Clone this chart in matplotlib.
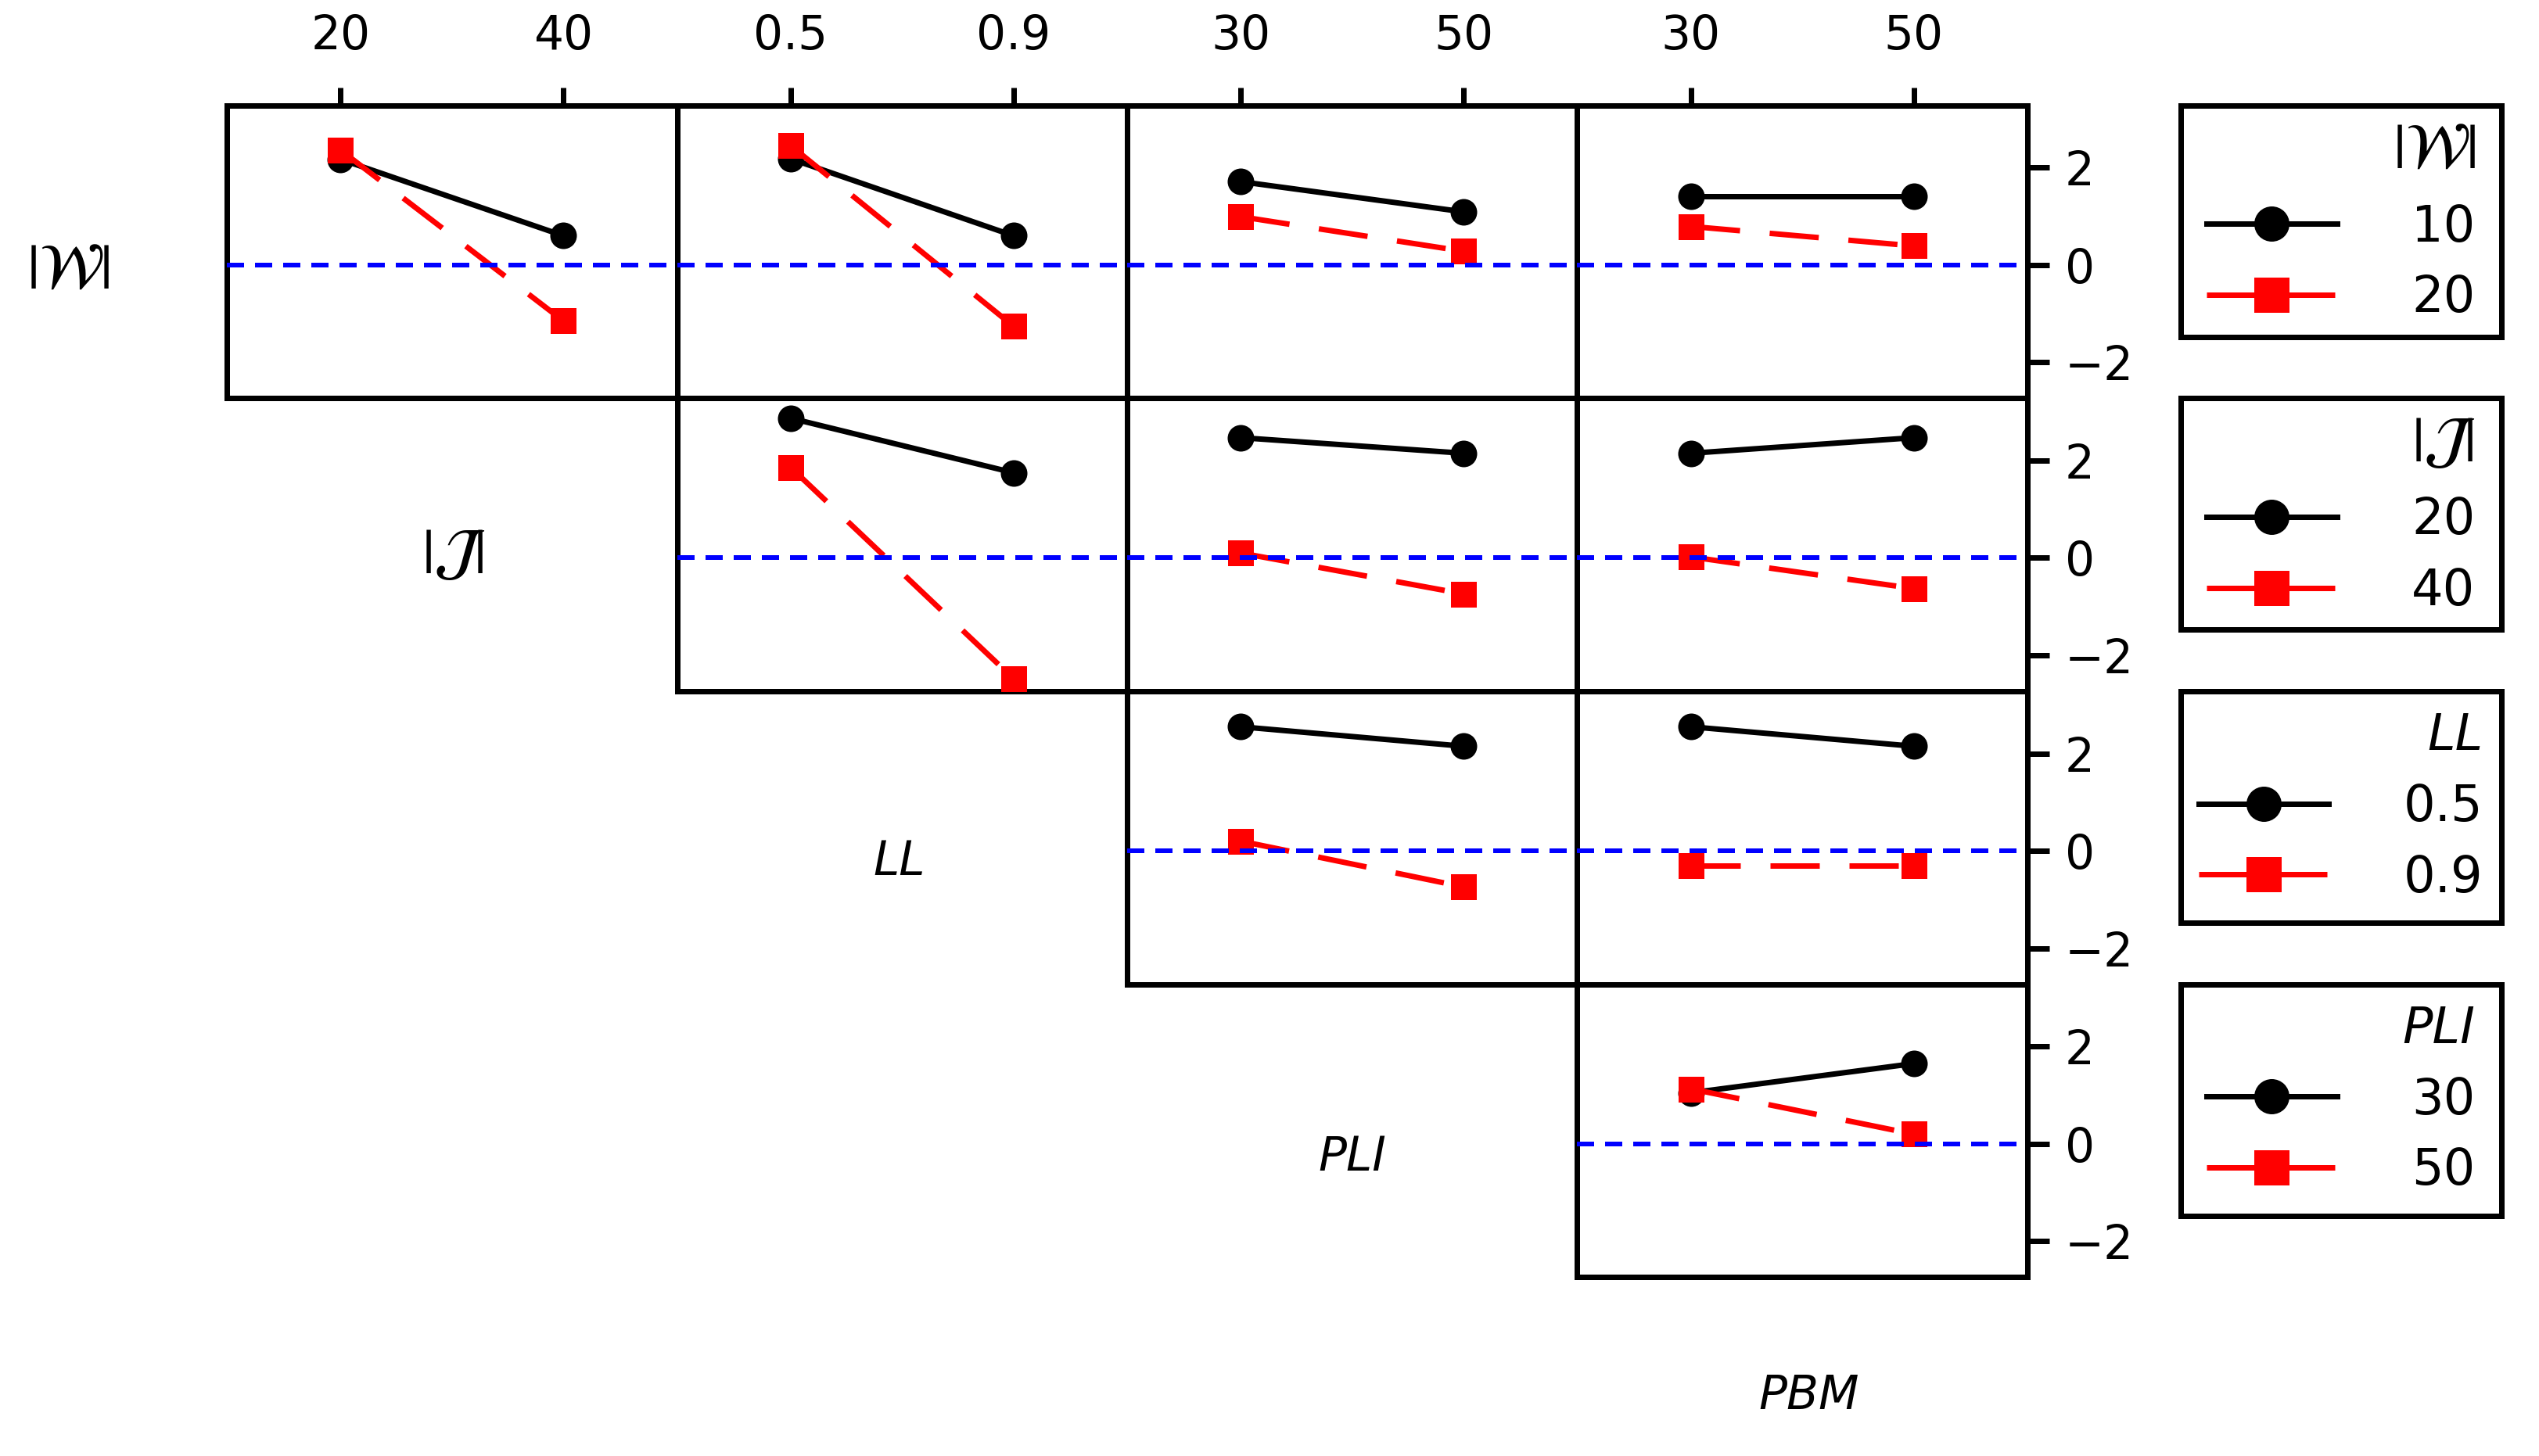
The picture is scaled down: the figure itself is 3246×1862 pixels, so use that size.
import matplotlib
matplotlib.use("Agg")
import matplotlib.pyplot as plt
from matplotlib.lines import Line2D
from matplotlib.font_manager import FontProperties
import numpy as np

# ---------------- data ----------------
factor_titles = [r"$|\mathcal{W}|$", r"$|\mathcal{J}|$", "LL", "PLI", "PBM"]
factor_is_math = [True, True, False, False, False]

w_levels = ["10", "20"]
j_levels = ["20", "40"]
ll_levels = ["0.5", "0.9"]
pli_levels = ["30", "50"]
pbm_levels = ["30", "50"]
all_levels = [w_levels, j_levels, ll_levels, pli_levels, pbm_levels]

# row factor (trace) x column factor (x axis): low-level trace, high-level trace
w_x_j_low = [2.17, 0.60]
w_x_j_high = [2.36, -1.15]
w_x_ll_low = [2.18, 0.60]
w_x_ll_high = [2.45, -1.26]
w_x_pli_low = [1.71, 1.09]
w_x_pli_high = [0.99, 0.28]
w_x_pbm_low = [1.41, 1.41]
w_x_pbm_high = [0.79, 0.39]
j_x_ll_low = [2.87, 1.75]
j_x_ll_high = [1.86, -2.48]
j_x_pli_low = [2.47, 2.15]
j_x_pli_high = [0.10, -0.74]
j_x_pbm_low = [2.15, 2.47]
j_x_pbm_high = [0.02, -0.63]
ll_x_pli_low = [2.55, 2.15]
ll_x_pli_high = [0.20, -0.74]
ll_x_pbm_low = [2.55, 2.15]
ll_x_pbm_high = [-0.31, -0.31]
pli_x_pbm_low = [1.05, 1.65]
pli_x_pbm_high = [1.13, 0.20]

panel_values = {
    (0, 1): (w_x_j_low, w_x_j_high),
    (0, 2): (w_x_ll_low, w_x_ll_high),
    (0, 3): (w_x_pli_low, w_x_pli_high),
    (0, 4): (w_x_pbm_low, w_x_pbm_high),
    (1, 2): (j_x_ll_low, j_x_ll_high),
    (1, 3): (j_x_pli_low, j_x_pli_high),
    (1, 4): (j_x_pbm_low, j_x_pbm_high),
    (2, 3): (ll_x_pli_low, ll_x_pli_high),
    (2, 4): (ll_x_pbm_low, ll_x_pbm_high),
    (3, 4): (pli_x_pbm_low, pli_x_pbm_high),
}
y_ticks = [-2, 0, 2]

# ---------------- style ----------------
W, H, DPI = 3246, 1862, 200
PX = 72.0 / DPI  # points per pixel
plt.rcParams["font.family"] = ["DejaVu Sans"]
plt.rcParams["lines.scale_dashes"] = False

TICK_FS = 21.5
LEG_FS = 23
MATH_FS = 29
SPINE_LW = 7 * PX
LINE_LW = 7 * PX
RED_DASH = (0, (63 * PX, 38 * PX))
BLUE_DASH = (0, (22 * PX, 14 * PX))

fig = plt.figure(figsize=(W / DPI, H / DPI), dpi=DPI)

col_left = [290, 865.5, 1441, 2016.5]
panel_w = 575.5
row_top = [134.6, 509.3, 884, 1258.7]
panel_h = 374.7


def frac_rect(x0, y0, w, h):
    return [x0 / W, 1 - (y0 + h) / H, w / W, h / H]


for (r, cf), (low, high) in panel_values.items():
    c = cf - 1
    ax = fig.add_axes(frac_rect(col_left[c], row_top[r], panel_w, panel_h))
    x = np.arange(1, len(all_levels[cf]) + 1)
    ax.plot(x, low, color="black", lw=LINE_LW, marker="o", ms=34 * PX,
            mew=0, solid_capstyle="butt", zorder=3)
    ax.plot(x, high, color="red", lw=LINE_LW, ls=RED_DASH, marker="s",
            ms=33 * PX, mew=0, dash_capstyle="butt", zorder=4)
    ax.axhline(0, color="blue", lw=6 * PX, ls=BLUE_DASH, zorder=5)
    ax.set_xlim(0.49, 2.51)
    ax.set_ylim(-2.74, 3.28)
    for s in ax.spines.values():
        s.set_linewidth(SPINE_LW)
    if r == 0:
        ax.xaxis.tick_top()
        ax.set_xticks(x)
        ax.set_xticklabels(all_levels[cf])
        ax.tick_params(axis="x", top=True, bottom=False, labeltop=True,
                       labelbottom=False, length=23 * PX, width=SPINE_LW,
                       pad=36 * PX, labelsize=TICK_FS, direction="out")
    else:
        ax.set_xticks([])
    if cf == 4:
        ax.yaxis.tick_right()
        ax.set_yticks(y_ticks)
        ax.tick_params(axis="y", right=True, left=False, labelright=True,
                       labelleft=False, length=28 * PX, width=SPINE_LW,
                       pad=20 * PX, labelsize=TICK_FS, direction="out")
    else:
        ax.set_yticks([])

# diagonal factor labels
label_pos = [(87, 346), (580, 710), (1150, 1102), (1729, 1480), (2313, 1785)]
for i, (px, py) in enumerate(label_pos):
    if factor_is_math[i]:
        fig.text(px / W, 1 - py / H, factor_titles[i], ha="center", va="center",
                 fontsize=MATH_FS, math_fontfamily="stix")
    else:
        fig.text(px / W, 1 - py / H, factor_titles[i], ha="center", va="center",
                 fontsize=TICK_FS, style="italic")

# legends
leg_left, leg_w, leg_h = 2788, 410, 296
for r in range(4):
    lax = fig.add_axes(frac_rect(leg_left, row_top[r], leg_w, leg_h))
    lax.set_xticks([])
    lax.set_yticks([])
    for s in lax.spines.values():
        s.set_linewidth(SPINE_LW)
    handles = [
        Line2D([], [], color="black", lw=7 * PX, marker="o", ms=45 * PX, mew=0),
        Line2D([], [], color="red", lw=7 * PX, ls=RED_DASH, marker="s",
               ms=45 * PX, mew=0),
    ]
    if factor_is_math[r]:
        tfp = FontProperties(family="DejaVu Sans", size=MATH_FS, math_fontfamily="stix")
    else:
        tfp = FontProperties(family="DejaVu Sans", size=LEG_FS, style="italic")
    leg = lax.legend(handles, all_levels[r], title=factor_titles[r],
                     title_fontproperties=tfp, loc="center", frameon=False,
                     fontsize=LEG_FS, handlelength=2.6, handletextpad=1.5,
                     labelspacing=0.45, borderpad=0.3, alignment="right")

fig.savefig("out.png", dpi=DPI)
